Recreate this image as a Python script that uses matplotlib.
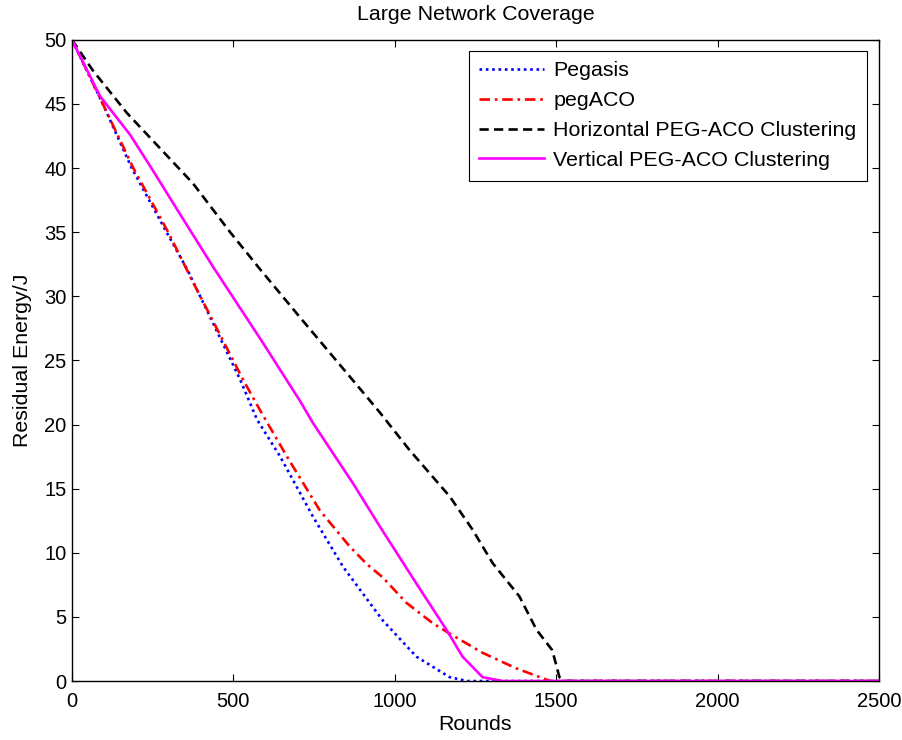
import matplotlib
matplotlib.use("Agg")
import matplotlib.pyplot as plt

plt.rcParams['font.family'] = ['Liberation Sans', 'DejaVu Sans']

# Data
pegasis_rounds = [0, 90, 185, 293, 357, 521, 573, 645, 747, 840, 962, 1067, 1170, 1224, 2500]
pegasis_energy = [50, 45.3, 40, 35, 32.1, 23.5, 20.4, 17.5, 12.8, 8.9, 4.75, 1.9, 0.3, 0, 0]

pegaco_rounds = [0, 90, 190, 298, 371, 530, 583, 666, 768, 860, 914, 962, 1036, 1118, 1170, 1272, 1375, 1482, 2500]
pegaco_energy = [50, 45.3, 40, 35, 31.3, 23.5, 21.1, 17.5, 13.3, 10.5, 9.1, 8.1, 6.1, 4.5, 3.7, 2.2, 1.0, 0, 0]

horiz_rounds = [0, 65, 170, 375, 490, 583, 705, 912, 955, 1046, 1170, 1241, 1303, 1386, 1439, 1488, 1510, 1523, 2500]
horiz_energy = [50, 47.6, 44.3, 38.8, 35, 32.1, 28.4, 22.2, 20.9, 18.0, 14.4, 11.8, 9.2, 6.6, 4.0, 2.4, 0.3, 0, 0]

vert_rounds = [0, 87, 180, 241, 325, 437, 583, 705, 747, 871, 955, 1067, 1160, 1210, 1272, 1333, 2500]
vert_energy = [50, 45.6, 42.6, 40.2, 36.8, 32.3, 26.7, 21.9, 20.1, 15.4, 12.0, 7.6, 4.0, 1.9, 0.3, 0, 0]

labels = ["Pegasis", "pegACO", "Horizontal PEG-ACO Clustering", "Vertical PEG-ACO Clustering"]
x_ticks = [0, 500, 1000, 1500, 2000, 2500]
y_ticks = [0, 5, 10, 15, 20, 25, 30, 35, 40, 45, 50]

FS = 14.5
FT = 15.4

fig = plt.figure(figsize=(9.03, 7.40), dpi=100)
ax = fig.add_axes([0.0797, 0.0797, 0.8937, 0.8665])

ax.plot(pegasis_rounds, pegasis_energy, color='#0000ff', linestyle=(0, (1, 1.4)), linewidth=1.9, label=labels[0])
ax.plot(pegaco_rounds, pegaco_energy, color='#ff0000', linestyle=(0, (4, 1.8, 1, 1.8)), linewidth=1.9, label=labels[1])
ax.plot(horiz_rounds, horiz_energy, color='black', linestyle=(0, (3.5, 2)), linewidth=1.9, label=labels[2])
ax.plot(vert_rounds, vert_energy, color='#ff00ff', linestyle='-', linewidth=1.9, label=labels[3])

ax.set_xlim(0, 2500)
ax.set_ylim(0, 50)
ax.set_xticks(x_ticks)
ax.set_yticks(y_ticks)
ax.tick_params(direction='in', top=True, right=True, labelsize=FS, length=5, width=0.8)
ax.tick_params(axis='x', pad=8)
ax.tick_params(axis='y', pad=4)
for s in ax.spines.values():
    s.set_linewidth(1.0)

ax.set_xlabel("Rounds", fontsize=FT, labelpad=3)
ax.set_ylabel("Residual Energy/J", fontsize=FT, labelpad=9)
ax.set_title("Large Network Coverage", fontsize=FT, pad=14)

leg = ax.legend(loc='upper right', bbox_to_anchor=(0.9985, 1.0), fontsize=FT,
                handlelength=3.0, labelspacing=0.51, borderpad=0.5, handletextpad=0.45,
                fancybox=False, framealpha=1, edgecolor='black')
leg.get_frame().set_linewidth(0.8)

fig.savefig("out.png", dpi=100)
